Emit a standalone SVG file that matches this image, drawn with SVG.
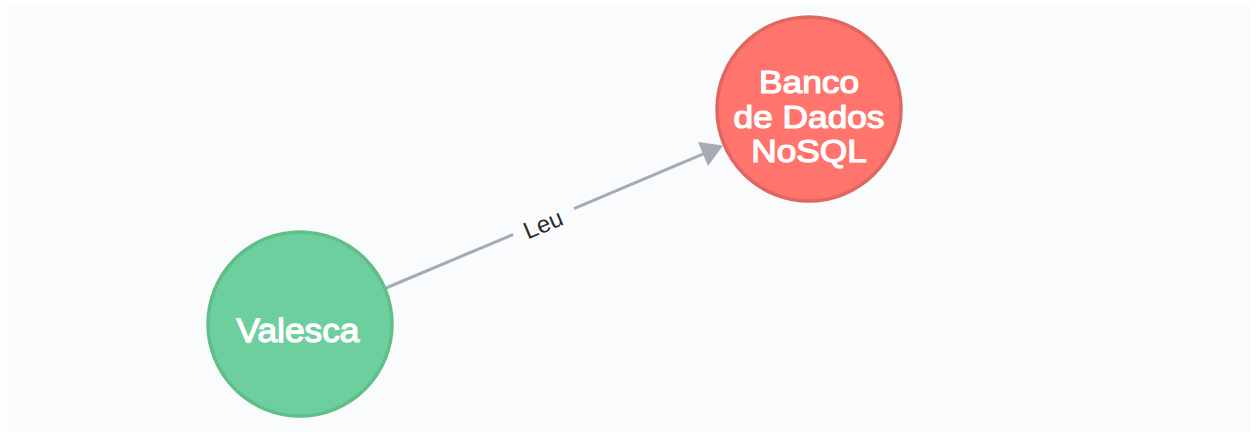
<svg xmlns="http://www.w3.org/2000/svg" width="1256" height="432" viewBox="0 0 1256 432">
  <style>
    .node-text { font-family: "Liberation Sans", Arial, sans-serif; font-weight: normal; font-size: 31.5px; fill: #ffffff; stroke: #ffffff; stroke-width: 1.2; text-anchor: middle; }
    .edge { stroke: #a5abb6; stroke-width: 3; fill: none; }
    .edge-label { font-family: "Liberation Sans", Arial, sans-serif; font-size: 24px; fill: #2a2a2a; text-anchor: middle; dominant-baseline: central; }
  </style>
  <rect x="0" y="0" width="1256" height="432" fill="#ffffff"/>
  <rect x="7" y="3" width="1243" height="429" fill="#f9fbfd"/>
  <g id="connectors">
    <line class="edge" x1="386" y1="288" x2="513" y2="234.5"/>
    <line class="edge" x1="574" y1="208.6" x2="704" y2="153.7"/>
    <polygon points="723,145.5 698,142 708,166" fill="#a5abb6"/>
    <text class="edge-label" transform="translate(543,224) rotate(-22.9)">Leu</text>
  </g>
  <g id="node-valesca">
    <circle cx="300" cy="324" r="92" fill="#6dce9e" stroke="#60be86" stroke-width="3.5"/>
    <text class="node-text" transform="translate(298,342) scale(1.12,1.08)" x="0" y="0">Valesca</text>
  </g>
  <g id="node-nosql">
    <circle cx="809" cy="109" r="92" fill="#ff756e" stroke="#e06760" stroke-width="3.5"/>
    <g transform="translate(809,0) scale(1.12,1)">
      <text class="node-text" x="0" y="93">Banco</text>
      <text class="node-text" x="0" y="128">de Dados</text>
      <text class="node-text" x="0" y="162">NoSQL</text>
    </g>
  </g>
</svg>
